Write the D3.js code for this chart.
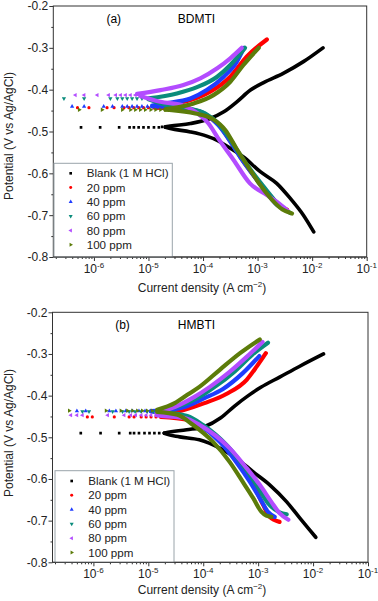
<!DOCTYPE html>
<html>
<head>
<meta charset="utf-8">
<script src="https://cdn.jsdelivr.net/npm/d3@7"></script>
<style>
body { margin: 0; background: #fff; }
svg { display: block; font-family: "Liberation Sans", Arial, sans-serif; }
</style>
</head>
<body>
<div id="chart"></div>
<script>
// series labels and tick values
var seriesNames = ["Blank (1 M HCl)", "20 ppm", "40 ppm", "60 ppm", "80 ppm", "100 ppm"];
var yTicks = [-0.2, -0.3, -0.4, -0.5, -0.6, -0.7, -0.8];
var yMinorTicks = [-0.25, -0.35, -0.45, -0.55, -0.65, -0.75];
var xTicks = [1e-6, 1e-5, 1e-4, 1e-3, 1e-2, 1e-1];
var xTickExp = ["-6", "-5", "-4", "-3", "-2", "-1"];

// (a) BDMTI -- [current density A cm-2, potential V]
var aBlankDots = [[5.8e-7,-0.490],[1.3e-6,-0.490],[2.9e-6,-0.490],[4.5e-6,-0.490],[5.4e-6,-0.490],[6.6e-6,-0.490],[8.1e-6,-0.490],[1.0e-5,-0.490],[1.26e-5,-0.490],[1.55e-5,-0.490],[1.78e-5,-0.489],[2.04e-5,-0.489]];
var aBlankAnodic = [[2.04e-5,-0.489],[2.51e-5,-0.487],[5.89e-5,-0.481],[1.35e-4,-0.469],[2.40e-4,-0.453],[4.17e-4,-0.429],[7.41e-4,-0.401],[1.29e-3,-0.383],[2.95e-3,-0.361],[6.92e-3,-0.333],[1.58e-2,-0.300]];
var aBlankCathodic = [[2.04e-5,-0.490],[2.51e-5,-0.493],[5.89e-5,-0.501],[1.17e-4,-0.511],[1.82e-4,-0.521],[3.16e-4,-0.540],[5.50e-4,-0.561],[1.12e-3,-0.596],[2.24e-3,-0.624],[3.98e-3,-0.660],[6.92e-3,-0.700],[1.07e-2,-0.740]];

var a20Dots = [[5.0e-7,-0.443],[8.1e-7,-0.443],[1.74e-6,-0.443],[2.34e-6,-0.443],[3.55e-6,-0.443],[4.37e-6,-0.443],[5.37e-6,-0.443],[6.61e-6,-0.443],[8.13e-6,-0.443],[1.0e-5,-0.443],[1.26e-5,-0.443]];
var a20Anodic = [[1.3e-5,-0.441],[1.91e-5,-0.437],[5.89e-5,-0.425],[1.35e-4,-0.405],[3.16e-4,-0.369],[6.31e-4,-0.321],[1.48e-3,-0.280]];
var a20Cathodic = [[1.3e-5,-0.443],[2.34e-5,-0.444],[5.89e-5,-0.449],[1.20e-4,-0.462],[2.09e-4,-0.489],[3.16e-4,-0.523],[5.01e-4,-0.564],[8.71e-4,-0.607],[1.51e-3,-0.647],[2.40e-3,-0.676],[3.47e-3,-0.687]];

var a40Dots = [[3.98e-7,-0.440],[6.61e-7,-0.440],[1.51e-6,-0.440],[2.19e-6,-0.440],[3.31e-6,-0.440],[4.07e-6,-0.440],[5.01e-6,-0.440],[6.17e-6,-0.440],[7.59e-6,-0.440],[9.55e-6,-0.440],[1.17e-5,-0.440]];
var a40Anodic = [[1.17e-5,-0.438],[1.91e-5,-0.433],[5.89e-5,-0.421],[1.17e-4,-0.401],[2.40e-4,-0.369],[4.17e-4,-0.333],[5.62e-4,-0.300]];
var a40Cathodic = [[1.17e-5,-0.440],[2.34e-5,-0.441],[5.50e-5,-0.446],[1.10e-4,-0.458],[1.91e-4,-0.485],[2.95e-4,-0.518],[4.79e-4,-0.561],[8.32e-4,-0.604],[1.45e-3,-0.645],[2.29e-3,-0.676],[3.31e-3,-0.687]];

var a60Dots = [[2.82e-7,-0.421],[6.61e-7,-0.421],[2.0e-6,-0.421],[2.69e-6,-0.421],[3.31e-6,-0.421],[4.07e-6,-0.421],[5.01e-6,-0.421],[6.17e-6,-0.421],[7.59e-6,-0.421],[9.55e-6,-0.421]];
var a60Anodic = [[1.0e-5,-0.421],[3.31e-5,-0.409],[7.76e-5,-0.394],[1.82e-4,-0.369],[3.16e-4,-0.341],[5.89e-4,-0.300]];
var a60Cathodic = [[1.0e-5,-0.423],[2.34e-5,-0.438],[5.50e-5,-0.445],[1.10e-4,-0.457],[1.91e-4,-0.481],[2.95e-4,-0.513],[4.79e-4,-0.556],[8.32e-4,-0.600],[1.45e-3,-0.640],[2.40e-3,-0.674],[3.98e-3,-0.695]];

var a80Dots = [[4.57e-7,-0.413],[6.61e-7,-0.413],[1.15e-6,-0.413],[1.86e-6,-0.413],[2.51e-6,-0.413],[3.09e-6,-0.413],[3.80e-6,-0.413],[4.68e-6,-0.413],[5.75e-6,-0.413],[7.08e-6,-0.413]];
var a80Anodic = [[6.17e-6,-0.410],[1.66e-5,-0.401],[4.37e-5,-0.389],[8.91e-5,-0.373],[1.82e-4,-0.349],[3.16e-4,-0.325],[5.13e-4,-0.300]];
var a80Cathodic = [[7.08e-6,-0.415],[1.66e-5,-0.429],[4.17e-5,-0.437],[7.24e-5,-0.453],[1.26e-4,-0.481],[1.91e-4,-0.517],[3.63e-4,-0.568],[7.24e-4,-0.624],[1.48e-3,-0.652],[2.24e-3,-0.668],[3.47e-3,-0.688]];

var a100Dots = [[5.37e-7,-0.448],[1.41e-6,-0.448],[3.31e-6,-0.448],[4.68e-6,-0.448],[5.75e-6,-0.448],[7.08e-6,-0.448],[8.71e-6,-0.448],[1.10e-5,-0.448],[1.35e-5,-0.448],[1.66e-5,-0.448],[2.04e-5,-0.448]];
var a100Anodic = [[2.04e-5,-0.447],[2.51e-5,-0.445],[6.76e-5,-0.433],[1.55e-4,-0.413],[3.16e-4,-0.381],[5.50e-4,-0.341],[1.05e-3,-0.300]];
var a100Cathodic = [[2.04e-5,-0.448],[2.69e-5,-0.449],[7.24e-5,-0.457],[1.45e-4,-0.469],[2.57e-4,-0.497],[4.07e-4,-0.540],[6.76e-4,-0.585],[1.12e-3,-0.628],[1.86e-3,-0.664],[2.82e-3,-0.686],[4.27e-3,-0.696]];

// (b) HMBTI
var bBlankDots = [[5.89e-7,-0.490],[1.35e-6,-0.490],[2.95e-6,-0.490],[4.68e-6,-0.490],[5.50e-6,-0.490],[6.76e-6,-0.490],[8.51e-6,-0.490],[1.05e-5,-0.490],[1.29e-5,-0.490],[1.58e-5,-0.490],[1.95e-5,-0.490]];
var bBlankAnodic = [[1.95e-5,-0.490],[2.09e-5,-0.489],[5.01e-5,-0.482],[1.07e-4,-0.474],[2.09e-4,-0.453],[3.72e-4,-0.425],[6.61e-4,-0.400],[1.12e-3,-0.380],[2.51e-3,-0.355],[5.62e-3,-0.330],[1.55e-2,-0.300]];
var bBlankCathodic = [[1.95e-5,-0.490],[2.09e-5,-0.492],[3.72e-5,-0.499],[8.51e-5,-0.506],[2.0e-4,-0.526],[3.98e-4,-0.550],[8.13e-4,-0.583],[1.62e-3,-0.614],[3.31e-3,-0.655],[5.75e-3,-0.694],[8.13e-3,-0.718],[1.12e-2,-0.740]];

var b20Dots = [[7.76e-7,-0.451],[9.55e-7,-0.451],[2.40e-6,-0.451],[4.47e-6,-0.451],[5.50e-6,-0.451],[7.41e-6,-0.451],[9.12e-6,-0.451],[1.12e-5,-0.451],[1.38e-5,-0.451],[1.70e-5,-0.451]];
var b20Anodic = [[1.70e-5,-0.447],[4.57e-5,-0.434],[1.05e-4,-0.418],[2.63e-4,-0.396],[6.17e-4,-0.362],[9.3e-4,-0.331],[1.38e-3,-0.298]];
var b20Cathodic = [[1.70e-5,-0.451],[5.13e-5,-0.458],[9.77e-5,-0.475],[2.29e-4,-0.514],[4.57e-4,-0.562],[8.13e-4,-0.614],[1.23e-3,-0.662],[1.62e-3,-0.691],[2.45e-3,-0.703]];

var b40Dots = [[5.01e-7,-0.437],[7.24e-7,-0.437],[1.95e-6,-0.437],[2.57e-6,-0.437],[3.89e-6,-0.437],[5.13e-6,-0.437],[6.76e-6,-0.437],[8.71e-6,-0.437],[1.12e-5,-0.437]];
var b40Anodic = [[1.12e-5,-0.437],[1.58e-5,-0.436],[4.57e-5,-0.427],[1.05e-4,-0.406],[2.29e-4,-0.384],[5.25e-4,-0.346],[1.05e-3,-0.305]];
var b40Cathodic = [[1.12e-5,-0.438],[1.95e-5,-0.442],[4.57e-5,-0.451],[8.51e-5,-0.470],[2.0e-4,-0.511],[3.98e-4,-0.559],[7.08e-4,-0.607],[1.07e-3,-0.646],[1.51e-3,-0.679],[2.0e-3,-0.691]];

var b60Dots = [[6.31e-7,-0.438],[8.32e-7,-0.438],[2.24e-6,-0.438],[3.39e-6,-0.438],[4.47e-6,-0.438],[5.75e-6,-0.438],[7.41e-6,-0.438],[9.55e-6,-0.438],[1.23e-5,-0.438],[1.58e-5,-0.438]];
var b60Anodic = [[1.58e-5,-0.436],[4.57e-5,-0.420],[8.51e-5,-0.403],[1.62e-4,-0.379],[3.80e-4,-0.341],[7.76e-4,-0.302],[1.51e-3,-0.273]];
var b60Cathodic = [[1.58e-5,-0.439],[5.13e-5,-0.449],[9.77e-5,-0.470],[2.63e-4,-0.518],[5.25e-4,-0.566],[9.33e-4,-0.614],[1.51e-3,-0.658],[2.45e-3,-0.680],[3.31e-3,-0.685]];

var b80Dots = [[3.89e-7,-0.447],[5.01e-7,-0.447],[6.31e-7,-0.447],[1.82e-6,-0.447],[3.63e-6,-0.447],[4.79e-6,-0.447],[5.89e-6,-0.447],[7.41e-6,-0.447],[9.12e-6,-0.447],[1.12e-5,-0.447],[1.41e-5,-0.447]];
var b80Anodic = [[1.41e-5,-0.442],[3.72e-5,-0.422],[6.92e-5,-0.403],[1.32e-4,-0.379],[3.02e-4,-0.343],[6.17e-4,-0.307],[1.20e-3,-0.271]];
var b80Cathodic = [[1.41e-5,-0.447],[1.95e-5,-0.449],[4.57e-5,-0.454],[8.51e-5,-0.470],[3.02e-4,-0.526],[6.17e-4,-0.574],[1.07e-3,-0.614],[1.74e-3,-0.655],[2.45e-3,-0.682],[3.55e-3,-0.698]];

var b100Dots = [[3.63e-7,-0.436],[1.70e-6,-0.436],[3.16e-6,-0.436],[4.17e-6,-0.436],[5.13e-6,-0.436],[6.31e-6,-0.436],[7.76e-6,-0.436],[9.55e-6,-0.436],[1.17e-5,-0.436],[1.45e-5,-0.436]];
var b100Anodic = [[1.45e-5,-0.434],[3.02e-5,-0.418],[5.13e-5,-0.398],[8.51e-5,-0.379],[2.0e-4,-0.338],[4.68e-4,-0.298],[1.07e-3,-0.265]];
var b100Cathodic = [[1.45e-5,-0.439],[3.39e-5,-0.446],[6.46e-5,-0.470],[1.51e-4,-0.511],[3.02e-4,-0.559],[5.25e-4,-0.607],[8.13e-4,-0.646],[1.15e-3,-0.679],[1.41e-3,-0.688],[1.74e-3,-0.691]];

// styles
var colors = ["#000000", "#ff0000", "#1f3cff", "#0b8c7c", "#b34cff", "#5c7c0a"];
var symbols = [d3.symbolSquare, d3.symbolCircle, d3.symbolTriangle, d3.symbolTriangle, d3.symbolTriangle, d3.symbolTriangle];
var rotations = [0, 0, 0, 180, -90, 90];

var width = 378, height = 601;

var panels = [
    { tag: "(a)", name: "BDMTI", left: 53.3, right: 366.7, top: 6, bottom: 257,
      tagX: 113.8, nameX: 196.5, labelY: 22.6, tickLabelY: 272.5, titleY: 291.5, yTitleY: 136,
      legend: { x: 54, y: 163.3, w: 118.3, rowY: 173.3, markX: 70.7, textX: 86.7 },
      dots: [aBlankDots, a20Dots, a40Dots, a60Dots, a80Dots, a100Dots],
      anodic: [aBlankAnodic, a20Anodic, a40Anodic, a60Anodic, a80Anodic, a100Anodic],
      cathodic: [aBlankCathodic, a20Cathodic, a40Cathodic, a60Cathodic, a80Cathodic, a100Cathodic] },
    { tag: "(b)", name: "HMBTI", left: 52.5, right: 368, top: 312.3, bottom: 562.3,
      tagX: 122.5, nameX: 196.5, labelY: 329.3, tickLabelY: 577.5, titleY: 594, yTitleY: 433,
      legend: { x: 55, y: 470.7, w: 119, rowY: 481, markX: 71.7, textX: 88.3 },
      dots: [bBlankDots, b20Dots, b40Dots, b60Dots, b80Dots, b100Dots],
      anodic: [bBlankAnodic, b20Anodic, b40Anodic, b60Anodic, b80Anodic, b100Anodic],
      cathodic: [bBlankCathodic, b20Cathodic, b40Cathodic, b60Cathodic, b80Cathodic, b100Cathodic] }
];

var svg = d3.select("#chart")
    .append("svg")
    .attr("width", width)
    .attr("height", height);

// minor ticks on the log axis: 2..9 in each decade
var xMinor = [];
for (var k = -7; k <= -2; k++) {
    for (var j = 2; j <= 9; j++) xMinor.push(j * Math.pow(10, k));
}

panels.forEach(function (p, pi) {
    var x = d3.scaleLog().domain([1.8e-7, 0.1]).range([p.left, p.right]);
    var y = d3.scaleLinear().domain([-0.8, -0.2]).range([p.bottom, p.top]);
    var minor = xMinor.filter(function (v) { return v > 1.8e-7 && v < 0.1; });

    var g = svg.append("g").attr("class", "panel");

    svg.append("clipPath").attr("id", "clip" + pi)
        .append("rect")
        .attr("x", p.left).attr("y", p.top)
        .attr("width", p.right - p.left).attr("height", p.bottom - p.top);

    // y axis
    var yAxis = g.append("g")
        .attr("transform", "translate(" + p.left + ",0)")
        .call(d3.axisLeft(y).tickValues(yTicks).tickSize(4).tickPadding(1)
            .tickFormat(function (d) { return d.toFixed(1); }));
    yAxis.select(".domain").remove();
    yAxis.selectAll("text").style("font-size", "12px").attr("fill", "#222");
    yAxis.selectAll("line").attr("stroke", "#333");
    var yMin = g.append("g")
        .attr("transform", "translate(" + p.left + ",0)")
        .call(d3.axisLeft(y).tickValues(yMinorTicks).tickSize(2).tickFormat(""));
    yMin.select(".domain").remove();
    yMin.selectAll("line").attr("stroke", "#333");

    // x axis
    var xAxis = g.append("g")
        .attr("transform", "translate(0," + p.bottom + ")")
        .call(d3.axisBottom(x).tickValues(xTicks).tickSize(4).tickFormat(""));
    xAxis.select(".domain").remove();
    xAxis.selectAll("line").attr("stroke", "#333");
    var xMin = g.append("g")
        .attr("transform", "translate(0," + p.bottom + ")")
        .call(d3.axisBottom(x).tickValues(minor).tickSize(2).tickFormat(""));
    xMin.select(".domain").remove();
    xMin.selectAll("line").attr("stroke", "#333");

    var xl = g.append("g").selectAll("text")
        .data(xTicks)
        .enter().append("text")
        .attr("x", function (d) { return x(d); })
        .attr("y", p.tickLabelY)
        .attr("text-anchor", "middle")
        .attr("fill", "#222")
        .style("font-size", "12px");
    xl.append("tspan").text("10");
    xl.append("tspan")
        .attr("dy", -5)
        .style("font-size", "8px")
        .text(function (d, i) { return xTickExp[i]; });

    // frame
    g.append("rect")
        .attr("x", p.left).attr("y", p.top)
        .attr("width", p.right - p.left).attr("height", p.bottom - p.top)
        .attr("fill", "none")
        .attr("stroke", "#333")
        .attr("stroke-width", 1);

    // titles
    g.append("text")
        .attr("transform", "translate(13," + p.yTitleY + ") rotate(-90)")
        .attr("text-anchor", "middle")
        .attr("fill", "#222")
        .style("font-size", "12px")
        .text("Potential (V vs Ag/AgCl)");

    var xt = g.append("text")
        .attr("x", 202)
        .attr("y", p.titleY)
        .attr("text-anchor", "middle")
        .attr("fill", "#222")
        .style("font-size", "12px");
    xt.append("tspan").text("Current density (A cm");
    xt.append("tspan").attr("dy", -5).style("font-size", "8px").text("\u22122");
    xt.append("tspan").attr("dy", 5).text(")");

    g.append("text")
        .attr("x", p.tagX).attr("y", p.labelY)
        .attr("text-anchor", "middle")
        .style("font-size", "12px")
        .text(p.tag);
    g.append("text")
        .attr("x", p.nameX).attr("y", p.labelY)
        .attr("text-anchor", "middle")
        .style("font-size", "12px")
        .text(p.name);

    // data
    var plot = g.append("g").attr("clip-path", "url(#clip" + pi + ")");
    var line = d3.line()
        .x(function (d) { return x(d[0]); })
        .y(function (d) { return y(d[1]); })
        .curve(d3.curveMonotoneX);

    seriesNames.forEach(function (name, si) {
        var s = plot.append("g").attr("class", "series");
        [p.anodic[si], p.cathodic[si]].forEach(function (branch) {
            s.append("path")
                .attr("d", line(branch))
                .attr("fill", "none")
                .attr("stroke", colors[si])
                .attr("stroke-width", si === 0 ? 3.6 : 4.2)
                .attr("stroke-linecap", "round")
                .attr("stroke-linejoin", "round");
        });
        s.selectAll("path.dot")
            .data(p.dots[si])
            .enter().append("path")
            .attr("class", "dot")
            .attr("d", d3.symbol().type(symbols[si]).size(si === 0 ? 7 : 8))
            .attr("transform", function (d) {
                return "translate(" + x(d[0]) + "," + y(d[1]) + ") rotate(" + rotations[si] + ")";
            })
            .attr("fill", colors[si]);
    });

    // legend
    var lg = g.append("g");
    lg.append("rect")
        .attr("x", p.legend.x).attr("y", p.legend.y)
        .attr("width", p.legend.w).attr("height", p.bottom - p.legend.y)
        .attr("fill", "#fff")
        .attr("stroke", "#9aa4aa")
        .attr("stroke-width", 1);
    seriesNames.forEach(function (name, si) {
        var ry = p.legend.rowY + si * 14.3;
        lg.append("path")
            .attr("d", d3.symbol().type(symbols[si]).size(7))
            .attr("transform", "translate(" + p.legend.markX + "," + ry + ") rotate(" + rotations[si] + ")")
            .attr("fill", colors[si]);
        lg.append("text")
            .attr("x", p.legend.textX)
            .attr("y", ry + 4)
            .attr("fill", "#222")
            .style("font-size", "11.6px")
            .text(name);
    });
    // bottom frame line over the legend box
    g.append("line")
        .attr("x1", p.left).attr("x2", p.right)
        .attr("y1", p.bottom).attr("y2", p.bottom)
        .attr("stroke", "#333");
});
</script>
</body>
</html>
